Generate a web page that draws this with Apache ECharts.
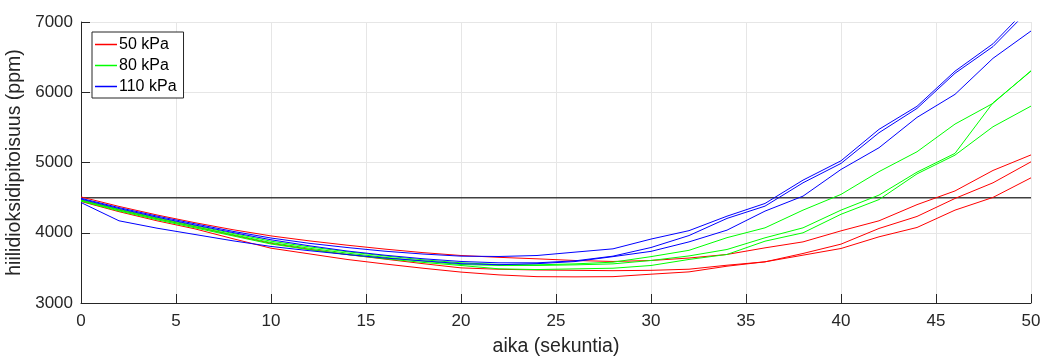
<!DOCTYPE html>
<html>
<head>
<meta charset="utf-8">
<title>hiilidioksidipitoisuus</title>
<script src="https://cdn.jsdelivr.net/npm/echarts@6/dist/echarts.min.js"></script>
<style>
  html, body { margin: 0; padding: 0; background: #fff; }
  #chart { width: 1043px; height: 356px; }
</style>
</head>
<body>
<div id="chart"></div>
<script>
// aika (s), mittaus 2 s välein
const time = [0, 2, 4, 6, 8, 10, 12, 14, 16, 18, 20, 22, 24, 26, 28, 30, 32, 34, 36, 38, 40, 42, 44, 46, 48, 50]

// 50 kPa
const red1 = [4510, 4375, 4253, 4143, 4043, 3955, 3885, 3823, 3767, 3717, 3676, 3650, 3629, 3605, 3591, 3605, 3640, 3691, 3785, 3870, 4027, 4170, 4400, 4595, 4887, 5108]
const red2 = [4465, 4325, 4200, 4085, 3965, 3850, 3765, 3690, 3625, 3560, 3500, 3480, 3470, 3465, 3460, 3465, 3481, 3538, 3586, 3705, 3838, 4061, 4232, 4488, 4711, 5010]
const red3 = [4445, 4300, 4170, 4055, 3915, 3780, 3700, 3620, 3555, 3495, 3440, 3400, 3375, 3372, 3375, 3410, 3443, 3524, 3586, 3681, 3776, 3942, 4075, 4322, 4503, 4782]
// 80 kPa
const green1 = [4470, 4335, 4212, 4100, 3990, 3880, 3800, 3730, 3670, 3615, 3572, 3548, 3543, 3557, 3581, 3660, 3750, 3930, 4070, 4322, 4546, 4870, 5153, 5547, 5842, 6307]
const green2 = [4460, 4322, 4198, 4085, 3973, 3860, 3780, 3710, 3650, 3595, 3548, 3534, 3534, 3543, 3557, 3605, 3670, 3762, 3928, 4070, 4322, 4536, 4863, 5130, 5850, 6300]
const green3 = [4450, 4310, 4185, 4070, 3955, 3840, 3760, 3690, 3630, 3578, 3534, 3486, 3476, 3486, 3495, 3534, 3620, 3691, 3880, 3999, 4263, 4472, 4838, 5105, 5509, 5803]
// 110 kPa
const blue1 = [4490, 4358, 4237, 4127, 4020, 3925, 3850, 3790, 3737, 3697, 3667, 3662, 3676, 3724, 3771, 3910, 4030, 4236, 4417, 4749, 5024, 5472, 5800, 6300, 6690, 7250]
const blue2 = [4480, 4345, 4222, 4110, 4003, 3900, 3815, 3740, 3680, 3630, 3591, 3572, 3572, 3600, 3667, 3790, 3960, 4204, 4379, 4711, 4987, 5424, 5770, 6270, 6650, 7200]
const blue3 = [4430, 4170, 4065, 3975, 3885, 3805, 3745, 3690, 3640, 3600, 3560, 3545, 3560, 3590, 3660, 3735, 3870, 4037, 4308, 4521, 4901, 5210, 5642, 5970, 6483, 6872]

const limit = 4500

const axisColor = '#262626'
const font = 'Liberation Sans, Arial, sans-serif'

function pairs (ys) {
  return time.map((t, i) => [t, ys[i]])
}

function lineSeries (name, color, ys) {
  return {
    type: 'line',
    name: name,
    data: pairs(ys),
    symbol: 'none',
    clip: true,
    lineStyle: { color: color, width: 1 },
    itemStyle: { color: color },
    z: 3
  }
}

const chart = echarts.init(document.getElementById('chart'), null, { renderer: 'canvas' })

const option = {
  animation: false,
  backgroundColor: '#fff',
  textStyle: { fontFamily: font },
  grid: { left: 81, right: 12, top: 22, bottom: 53, outerBoundsMode: 'none', containLabel: false },
  legend: {
    data: ['50 kPa', '80 kPa', '110 kPa'],
    orient: 'vertical',
    left: 92,
    top: 32,
    icon: 'rect',
    itemWidth: 22,
    itemHeight: 1.5,
    itemGap: 4,
    padding: [4, 7, 3, 3],
    backgroundColor: '#fff',
    borderColor: axisColor,
    borderWidth: 1,
    borderRadius: 0,
    textStyle: { fontSize: 16, color: '#000', lineHeight: 17, padding: [0, 0, 0, -3] }
  },
  xAxis: {
    type: 'value',
    min: 0,
    max: 50,
    interval: 5,
    name: 'aika (sekuntia)',
    nameLocation: 'middle',
    nameGap: 34,
    nameTextStyle: { fontSize: 19.5, color: axisColor },
    axisLine: { onZero: false, lineStyle: { color: axisColor, width: 1 } },
    axisTick: { inside: true, length: 9, lineStyle: { color: axisColor } },
    axisLabel: { fontSize: 17, color: axisColor, margin: 10 },
    splitLine: { show: true, lineStyle: { color: '#e6e6e6', width: 1 } }
  },
  yAxis: {
    type: 'value',
    min: 3000,
    max: 7000,
    interval: 1000,
    name: 'hiilidioksidipitoisuus (ppm)',
    nameLocation: 'middle',
    nameGap: 52,
    nameTextStyle: { fontSize: 19.5, color: axisColor },
    axisLine: { show: true, lineStyle: { color: axisColor, width: 1 } },
    axisTick: { show: true, inside: true, length: 9, lineStyle: { color: axisColor } },
    axisLabel: { fontSize: 17, color: axisColor, margin: 8, formatter: (v) => String(v) },
    splitLine: { show: true, lineStyle: { color: '#e6e6e6', width: 1 } }
  },
  series: [
    {
      type: 'line',
      name: 'raja',
      data: [[0, limit], [50, limit]],
      symbol: 'none',
      lineStyle: { color: '#404040', width: 1.5 },
      z: 2
    },
    lineSeries('50 kPa', '#ff0000', red1),
    lineSeries('50 kPa', '#ff0000', red2),
    lineSeries('50 kPa', '#ff0000', red3),
    lineSeries('80 kPa', '#00ff00', green1),
    lineSeries('80 kPa', '#00ff00', green2),
    lineSeries('80 kPa', '#00ff00', green3),
    lineSeries('110 kPa', '#0000ff', blue1),
    lineSeries('110 kPa', '#0000ff', blue2),
    lineSeries('110 kPa', '#0000ff', blue3)
  ]
}

chart.setOption(option)
</script>
</body>
</html>
